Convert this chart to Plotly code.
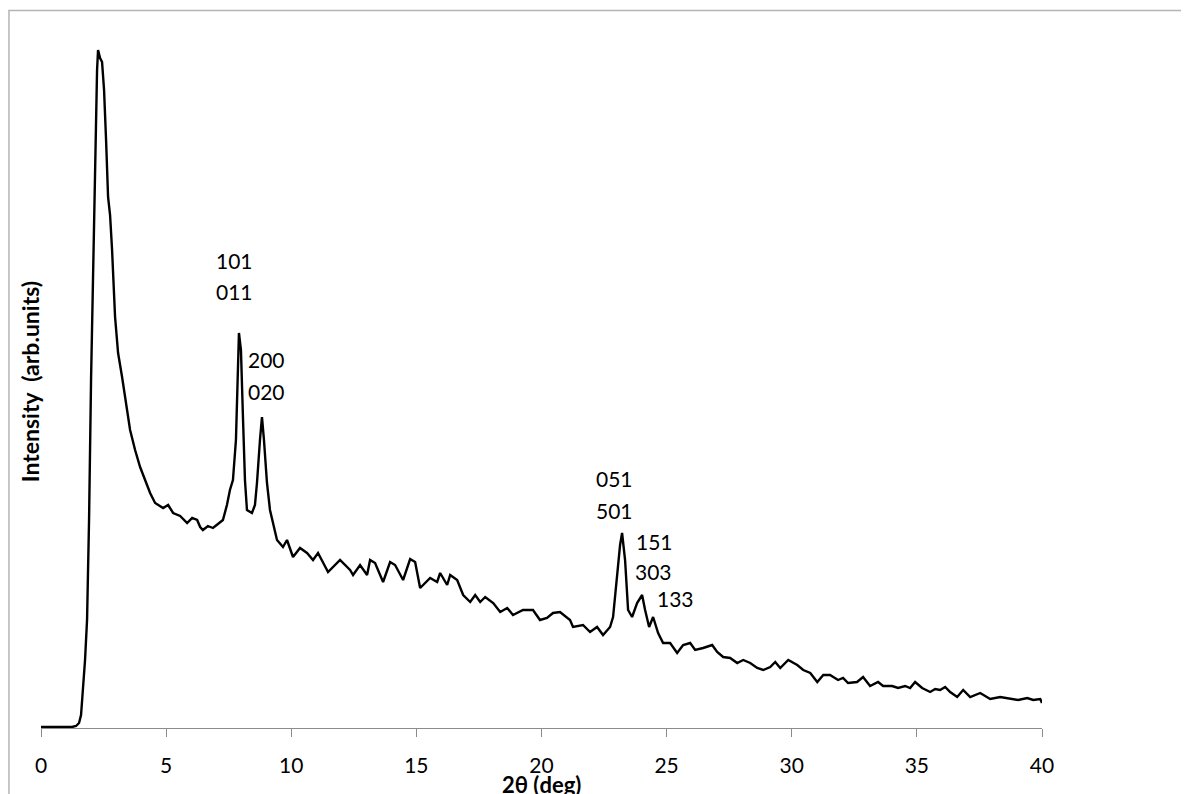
import plotly.graph_objects as go

# 2theta (deg) and intensity (arb. units)
two_theta = [0.0, 0.76, 1.24, 1.40, 1.52, 1.60, 1.68, 1.76, 1.84, 1.92, 2.00, 2.08, 2.16, 2.24, 2.28,
             2.36, 2.44, 2.52, 2.60, 2.68, 2.76, 2.84, 2.96, 3.08, 3.24, 3.44, 3.56, 3.76, 3.96, 4.16,
             4.36, 4.56, 4.88, 5.08, 5.28, 5.56, 5.84, 6.04, 6.24, 6.36, 6.47, 6.67, 6.87, 7.07, 7.27,
             7.43, 7.55, 7.67, 7.79, 7.91, 7.99, 8.07, 8.15, 8.23, 8.43, 8.55, 8.63, 8.75, 8.83, 8.91,
             9.03, 9.15, 9.27, 9.43, 9.67, 9.83, 10.07, 10.35, 10.63, 10.87, 11.07, 11.47, 11.95, 12.35,
             12.47, 12.75, 13.03, 13.15, 13.35, 13.67, 13.95, 14.15, 14.47, 14.75, 14.95, 15.15, 15.55,
             15.83, 15.95, 16.23, 16.35, 16.63, 16.87, 17.15, 17.35, 17.55, 17.75, 18.07, 18.35, 18.63,
             18.86, 19.26, 19.66, 19.94, 20.22, 20.46, 20.74, 21.14, 21.26, 21.66, 21.94, 22.22, 22.46,
             22.74, 22.86, 23.02, 23.14, 23.22, 23.34, 23.46, 23.62, 23.82, 24.02, 24.14, 24.30, 24.46,
             24.66, 24.86, 25.14, 25.42, 25.66, 25.94, 26.14, 26.46, 26.82, 27.02, 27.26, 27.54, 27.82,
             28.06, 28.34, 28.62, 28.86, 29.14, 29.34, 29.54, 29.86, 30.22, 30.46, 30.74, 31.02, 31.26,
             31.53, 31.85, 32.05, 32.25, 32.61, 32.85, 33.13, 33.45, 33.65, 34.01, 34.25, 34.53, 34.73,
             34.93, 35.21, 35.53, 35.73, 35.93, 36.13, 36.33, 36.61, 36.85, 37.13, 37.53, 37.93, 38.33,
             38.73, 39.05, 39.41, 39.65, 39.93, 40.0]
intensity = [1, 1, 1, 2, 5, 13, 38, 68, 108, 208, 348, 465, 578, 658, 678,
             670, 666, 638, 588, 531, 513, 478, 411, 375, 351, 318, 298, 278, 261, 248,
             235, 225, 220, 223, 215, 212, 205, 210, 208, 201, 198, 202, 200, 204, 208,
             223, 238, 248, 288, 395, 378, 311, 248, 218, 215, 223, 245, 288, 311, 288,
             245, 218, 205, 188, 181, 188, 171, 180, 175, 168, 175, 156, 168, 158,
             153, 163, 153, 168, 165, 146, 166, 163, 148, 169, 166, 140, 150,
             146, 155, 143, 153, 148, 133, 126, 133, 126, 131, 125, 116, 120,
             113, 118, 118, 108, 110, 115, 116, 108, 101, 103, 96, 101, 93,
             101, 111, 151, 183, 195, 168, 118, 111, 125, 133, 118, 101, 111,
             95, 85, 85, 75, 83, 85, 78, 80, 83, 76, 71, 70, 65,
             68, 65, 60, 58, 61, 66, 60, 68, 63, 58, 55, 46, 53,
             53, 48, 50, 45, 46, 51, 42, 46, 42, 42, 40, 42, 40,
             46, 40, 36, 39, 38, 41, 36, 31, 38, 31, 35, 29, 31,
             29, 28, 30, 28, 29, 25]

# Peak index labels: text, 2theta position, intensity position
label_text = ["101", "011", "200", "020", "051", "501", "151", "303", "133"]
label_x = [7.74, 7.74, 9.01, 9.01, 22.92, 22.92, 24.50, 24.46, 25.34]
label_y = [468, 437, 369, 337, 250, 218, 187, 157, 130]

x_ticks = [0, 5, 10, 15, 20, 25, 30, 35, 40]

FONT = "Lato"

fig = go.Figure()
fig.add_trace(go.Scatter(x=two_theta, y=intensity, mode="lines",
                         line=dict(color="black", width=2.4), showlegend=False,
                         hoverinfo="skip"))

for t, xx, yy in zip(label_text, label_x, label_y):
    fig.add_annotation(x=xx, y=yy, xref="x", yref="y", text=t, showarrow=False,
                       xanchor="center", yanchor="middle",
                       font=dict(family=FONT, size=21, color="black"))

fig.add_annotation(xref="paper", yref="paper", x=0.5, y=-0.078, text="<b>2θ (deg)</b>",
                   showarrow=False, xanchor="center", yanchor="middle",
                   font=dict(family=FONT, size=22, color="black"))
fig.add_annotation(xref="paper", yref="paper", x=-0.011, y=0.483,
                   text="<b>Intensity  (arb.units)</b>", textangle=-90,
                   showarrow=False, xanchor="center", yanchor="middle",
                   font=dict(family=FONT, size=23, color="black"))

# outer chart frame (cropped chart border)
fig.add_shape(type="path", xref="paper", yref="paper",
              path="M -0.032,-0.2 L -0.032,0.9993 L 1.2,0.9993",
              line=dict(color="#b4b4b4", width=1.5))

fig.update_layout(
    width=1189, height=794,
    margin=dict(l=33, r=155, t=2, b=74),
    paper_bgcolor="white", plot_bgcolor="white",
    xaxis=dict(range=[0, 40], tickvals=x_ticks, showgrid=False, zeroline=False,
               showline=True, linecolor="#8c8c8c", linewidth=1.2,
               ticks="outside", ticklen=8, tickcolor="#8c8c8c", tickwidth=1.2,
               ticklabelstandoff=11,
               tickfont=dict(family=FONT, size=21, color="black")),
    yaxis=dict(range=[0, 718], showgrid=False, zeroline=False, showline=False,
               showticklabels=False, ticks=""),
)

fig.write_html("out.html")
